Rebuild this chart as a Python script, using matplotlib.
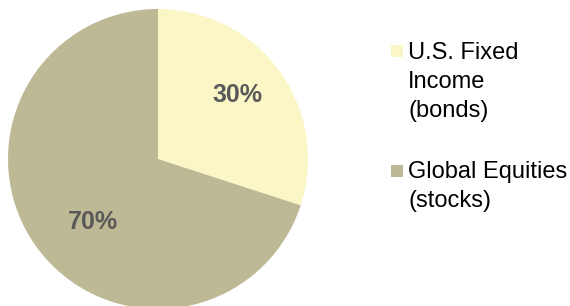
import numpy as np
import matplotlib.pyplot as plt
from matplotlib.patches import Rectangle

plt.rcParams['font.family'] = ['Liberation Sans', 'DejaVu Sans']

# data
labels = ["U.S. Fixed\nIncome\n(bonds)", "Global Equities\n(stocks)"]
shares = [30, 70]
colors = ["#FAF6C6", "#BEB995"]

fig = plt.figure(figsize=(5.7, 3.06), dpi=100)
W, H = 570, 306

# pie axes: center ~(158,159) px, radius ~150 px
ax = fig.add_axes([8 / W, (H - 309) / H, 300 / W, 300 / H])
wedges, texts, autotexts = ax.pie(
    shares, colors=colors, startangle=90, counterclock=False,
    autopct="%d%%", pctdistance=0.64, radius=1.0,
    wedgeprops=dict(linewidth=0),
    textprops=dict(color="#595959", fontsize=18, fontweight="bold"))
ax.set_xlim(-1, 1)
ax.set_ylim(-1, 1)
ax.set_aspect("equal")

# nudge percentage labels the way the original places them
label_r = [0.68, 0.60]
label_shift = [3, 8]  # degrees
for w, t, r, s in zip(wedges, autotexts, label_r, label_shift):
    mid = np.deg2rad((w.theta1 + w.theta2) / 2 + s)
    t.set_position((r * np.cos(mid), r * np.sin(mid)))

# legend drawn by hand to match the stacked layout
square_tops = [45, 165]   # px from top
last_base = [117, 207]    # baseline of last line, px from top
for lab, col, sq, base in zip(labels, colors, square_tops, last_base):
    fig.patches.append(Rectangle((391 / W, 1 - (sq + 12) / H), 12 / W, 12 / H,
                                 transform=fig.transFigure, facecolor=col,
                                 edgecolor="none"))
    fig.text(408 / W, 1 - base / H, lab, fontsize=17, color="black",
             va="baseline", ha="left", linespacing=1.42)

fig.savefig("out.png", dpi=100)
